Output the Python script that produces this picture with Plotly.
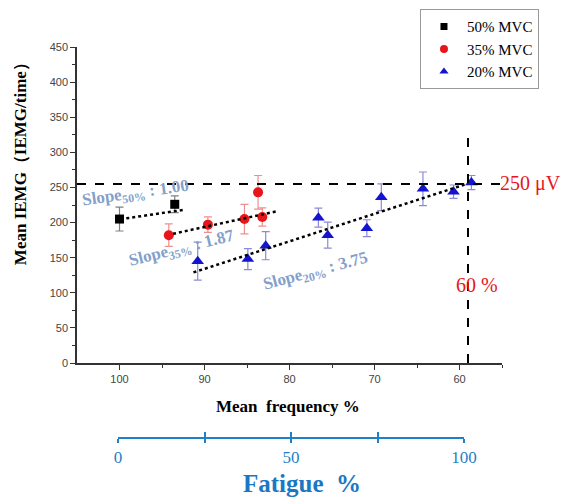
import plotly.graph_objects as go

# ---------------- data ----------------
black_x = [100, 93.5]
black_y = [205, 226]
black_err = [17, 12]

red_x = [94.2, 89.6, 85.3, 83.7, 83.2]
red_y = [182, 197, 205, 243, 208]
red_err = [16, 11, 21, 24, 13]

blue_x = [90.8, 84.9, 82.8, 76.6, 75.5, 70.9, 69.2, 64.3, 60.7, 58.6]
blue_y = [145, 148, 167, 207, 182, 192, 236, 248, 244, 257]
blue_err = [27, 15, 20, 13.5, 18.5, 12, 19, 24, 9.5, 10]

fit50_x = [99.2, 92.5]
fit50_y = [206, 218]
fit35_x = [93.7, 81.3]
fit35_y = [184, 216.5]
fit20_x = [91.3, 59.4]
fit20_y = [129, 254]

threshold_y = 255
threshold_x = 59
threshold_top = 332

fatigue_ticks = [0, 25, 50, 75, 100]
fatigue_labels = ["0", "", "50", "", "100"]

SERIF = "Liberation Serif"
SANS = "Liberation Sans"
SLOPE_COLOR = "#859fcb"

series = [
    ("50% MVC", black_x, black_y, black_err, "square", "black", 9, 7, "#808080"),
    ("35% MVC", red_x, red_y, red_err, "circle", "#e8161b", 10, 8, "#ee8f8f"),
    ("20% MVC", blue_x, blue_y, blue_err, "triangle-up", "#1414d0", 11, 8, "#8a8ad6"),
]

fig = go.Figure()

for name, xs, ys, es, sym, col, size, lsize, ecol in series:
    fig.add_trace(go.Scatter(
        x=xs, y=ys, mode="markers", name=name, showlegend=False,
        marker=dict(symbol=sym, color=col, size=size),
        error_y=dict(type="data", array=es, color=ecol, thickness=1.2, width=4),
    ))

for fx, fy in [(fit50_x, fit50_y), (fit35_x, fit35_y), (fit20_x, fit20_y)]:
    fig.add_trace(go.Scatter(
        x=fx, y=fy, mode="lines", showlegend=False,
        line=dict(color="black", width=2.5, dash="dot"),
    ))

# legend entries (smaller markers, as in the reference legend)
for name, xs, ys, es, sym, col, size, lsize, ecol in series:
    fig.add_trace(go.Scatter(
        x=[None], y=[None], mode="markers", name=name,
        marker=dict(symbol=sym, color=col, size=lsize),
    ))

# threshold dashed lines
fig.add_shape(type="line", xref="paper", yref="y", x0=0, x1=1.005,
              y0=threshold_y, y1=threshold_y,
              line=dict(color="black", width=2, dash="dash"))
fig.add_shape(type="line", xref="x", yref="y", x0=threshold_x, x1=threshold_x,
              y0=0, y1=threshold_top,
              line=dict(color="black", width=2, dash="dash"))

# fatigue axis: its own thin subplot below the main one
for ax in ["x2", "x3"]:
    fig.add_trace(go.Scatter(x=[0, 100], y=[0, 0], xaxis=ax, yaxis="y2",
                             mode="markers", marker=dict(opacity=0), showlegend=False,
                             hoverinfo="skip"))

annotations = [
    dict(x=98.1, y=240, xref="x", yref="y", text="Slope<sub>50%</sub> : 1.00",
         textangle=-8, showarrow=False, xanchor="center", yanchor="middle",
         font=dict(family=SERIF, size=17, color=SLOPE_COLOR, weight="bold")),
    dict(x=92.6, y=162, xref="x", yref="y", text="Slope<sub>35%</sub> : 1.87",
         textangle=-14, showarrow=False, xanchor="center", yanchor="middle",
         font=dict(family=SERIF, size=17, color=SLOPE_COLOR, weight="bold")),
    dict(x=76.9, y=130, xref="x", yref="y", text="Slope<sub>20%</sub> : 3.75",
         textangle=-15, showarrow=False, xanchor="center", yanchor="middle",
         font=dict(family=SERIF, size=17, color=SLOPE_COLOR, weight="bold")),
    dict(x=1.066, y=threshold_y, xref="paper", yref="y", text="250 μV",
         showarrow=False, xanchor="center", yanchor="middle",
         font=dict(family=SERIF, size=20, color="#e8161b")),
    dict(x=58.0, y=111, xref="x", yref="y", text="60 %",
         showarrow=False, xanchor="center", yanchor="middle",
         font=dict(family=SERIF, size=20, color="#e8161b")),
    dict(x=-0.134, y=0.71, xref="paper", yref="paper", text="Mean IEMG（IEMG/time）",
         textangle=-90, showarrow=False, xanchor="center", yanchor="middle",
         font=dict(family=SERIF, size=17, color="black", weight="bold")),
    dict(x=0.496, y=0.077, xref="paper", yref="paper", text="Mean  frequency %",
         showarrow=False, xanchor="center", yanchor="middle",
         font=dict(family=SERIF, size=17, color="black", weight="bold")),
    dict(x=0.529, y=-0.118, xref="paper", yref="paper", text="Fatigue  %",
         showarrow=False, xanchor="center", yanchor="middle",
         font=dict(family=SERIF, size=25, color="#1a78c2", weight="bold")),
]

fat_dom = [(118 - 77) / 425, (464 - 77) / 425]

fig.update_layout(
    width=562, height=489,
    margin=dict(l=69, r=68, t=39, b=60, autoexpand=False),
    plot_bgcolor="rgba(0,0,0,0)", paper_bgcolor="white",
    showlegend=True,
    legend=dict(x=0.807, y=1.097, xanchor="left", yanchor="top",
                bordercolor="#999999", borderwidth=1, bgcolor="white",
                font=dict(family=SERIF, size=15, color="black"),
                itemwidth=36, tracegroupgap=0),
    xaxis=dict(range=[105, 55], anchor="y", domain=[0, 1],
               showline=True, linecolor="#333333", linewidth=1.5,
               showgrid=False, zeroline=False,
               tickvals=[100, 90, 80, 70, 60], ticks="outside", ticklen=5,
               tickcolor="#333333",
               minor=dict(tickvals=[95, 85, 75, 65, 55], ticks="outside", ticklen=3,
                          tickcolor="#333333"),
               tickfont=dict(family=SANS, size=11, color="#444444")),
    yaxis=dict(range=[0, 450], domain=[(437 - 363) / 390, 1],
               showline=True, linecolor="#333333", linewidth=1.5,
               showgrid=False, zeroline=False,
               dtick=50, ticks="outside", ticklen=5, tickcolor="#333333",
               minor=dict(dtick=25, ticks="outside", ticklen=3, tickcolor="#333333"),
               tickfont=dict(family=SANS, size=11, color="#444444")),
    yaxis2=dict(domain=[0, 0.005], range=[0, 1], visible=False),
    xaxis2=dict(range=[0, 100], domain=fat_dom, anchor="y2",
                showline=True, linecolor="#1f7fc8", linewidth=2,
                showgrid=False, zeroline=False,
                tickvals=fatigue_ticks, ticktext=fatigue_labels,
                ticks="outside", ticklen=4, tickwidth=2, tickcolor="#1f7fc8",
                tickfont=dict(family=SERIF, size=17, color="#1f7fc8")),
    xaxis3=dict(range=[0, 100], domain=fat_dom, anchor="y2", overlaying="x2",
                showline=False,
                showgrid=False, zeroline=False, showticklabels=False,
                tickvals=fatigue_ticks,
                ticks="inside", ticklen=5, tickwidth=2, tickcolor="#1f7fc8"),
    annotations=annotations,
)

fig.write_html("out.html")
